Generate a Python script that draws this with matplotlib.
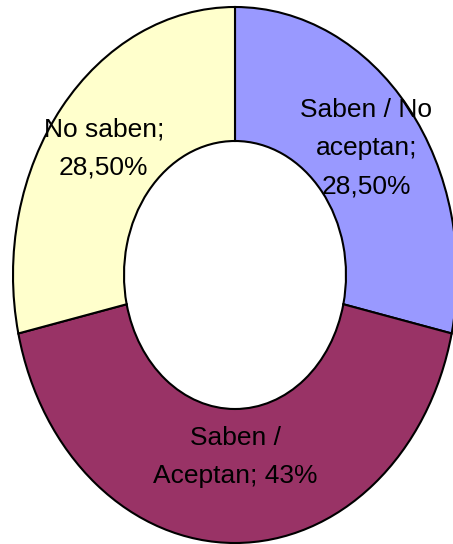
import numpy as np
import matplotlib
matplotlib.use("Agg")
import matplotlib.pyplot as plt

categories = ["Saben / No\naceptan;", "Saben /\nAceptan;", "No saben;"]
values = [28.5, 43.0, 28.5]
value_labels = ["28,50%", "43%", "28,50%"]
colors = ["#9999FF", "#993366", "#FFFFCC"]

plt.rcParams['font.family'] = ['Liberation Sans', 'DejaVu Sans']

W, H = 453, 544
fig = plt.figure(figsize=(W / 100, H / 100), dpi=100)
ax = fig.add_axes([0, 0, 1, 1])

wedges, _ = ax.pie(values, colors=colors, startangle=90, counterclock=False,
                   radius=1.0, wedgeprops=dict(width=0.5, edgecolor='black', linewidth=1.5))

# map data coords to pixel layout (elliptical donut)
cx, cy, rx, ry = 235, 275, 222, 268
ax.set_aspect('auto')
ax.set_xlim(-cx / rx, (W - cx) / rx)
ax.set_ylim(-(H - cy) / ry, cy / ry)
ax.axis('off')

total = sum(values)
start = 90.0
radii = [0.757, 0.68, 0.757]
texts = [
    f"{categories[0]}\n{value_labels[0]}",
    f"{categories[1].split(chr(10))[0]}\n{categories[1].split(chr(10))[1]} {value_labels[1]}",
    f"{categories[2]}\n{value_labels[2]}",
]
for v, r, t in zip(values, radii, texts):
    span = 360.0 * v / total
    mid = np.deg2rad(start - span / 2)
    start -= span
    ax.text(r * np.cos(mid), r * np.sin(mid), t, ha='center', va='center',
            fontsize=19, linespacing=1.75, color='black')

fig.savefig("out.png", dpi=100)
